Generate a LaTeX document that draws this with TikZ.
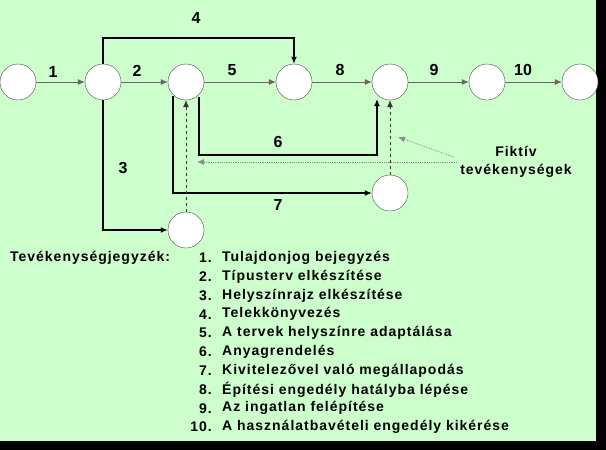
\documentclass[tikz,border=0pt]{standalone}
\usepackage{fontspec}
\setmainfont{Liberation Sans}
\usetikzlibrary{arrows.meta}
\definecolor{bgGreen}{RGB}{204,255,204}
\tikzset{
  event/.style={circle,draw=black!70,fill=white,minimum size=36pt,inner sep=0pt},
  act/.style={draw=black,line width=1.3pt,-{Latex[length=7pt,width=6pt]}},
  thin act/.style={draw=black!60,line width=0.8pt,-{Latex[length=7pt,width=6pt]}},
  dummy/.style={draw=black!80,dashed,line width=0.8pt,-{Latex[length=7pt,width=6pt]}},
  pointer/.style={draw=black!45,densely dotted,line width=0.8pt,-{Latex[length=7pt,width=6pt]}},
  lab/.style={font=\bfseries\fontsize{16}{16}\selectfont},
  item/.style={font=\bfseries\fontsize{14}{14}\selectfont\addfontfeature{LetterSpace=7},anchor=west,inner sep=0pt}
}
\begin{document}
\begin{tikzpicture}[x=1pt,y=-1pt]
  \fill[black] (0,0) rectangle (606,450);
  \fill[bgGreen] (0,0) rectangle (596,441);
  \useasboundingbox (0,0) rectangle (606,450);
  % events
  \node[event] (e1) at (18,82) {};
  \node[event] (e2) at (103,82) {};
  \node[event] (e3) at (186,82) {};
  \node[event] (e4) at (294,82) {};
  \node[event] (e5) at (390,82) {};
  \node[event] (e6) at (487,82) {};
  \node[event] (e7) at (580,82) {};
  \node[event] (e8) at (390,193) {};
  \node[event] (e9) at (186,230) {};
  % activities
  \draw[thin act] (e1) -- (e2);
  \draw[thin act] (e2) -- (e3);
  \draw[thin act] (e3) -- (e4);
  \draw[thin act] (e4) -- (e5);
  \draw[thin act] (e5) -- (e6);
  \draw[thin act] (e6) -- (e7);
  \draw[act] (e2.north) |- (103,38) -| (e4.north);
  \draw[act] (e2.south) |- (e9.west);
  \draw[act] (199,97) |- (377,155) -- (377,99);
  \draw[act] (173,96) |- (e8.west);
  \draw[dummy] (e9.north) -- (e3.south);
  \draw[dummy] (e8.north) -- (e5.south);
  \node[lab] (l1) at (53,72) {1};
  \node[lab] (l2) at (137,71) {2};
  \node[lab] (l4) at (196,18) {4};
  \node[lab] (l5) at (232,70) {5};
  \node[lab] (l8) at (340,70) {8};
  \node[lab] (l9) at (434,70) {9};
  \node[lab] (l10) at (523,70) {10};
  \node[lab] (l6) at (278,142) {6};
  \node[lab] (l7) at (278,205) {7};
  \node[lab] (l3) at (123,168) {3};
  % fictive note
  \node[font=\bfseries\fontsize{14}{18}\selectfont\addfontfeature{LetterSpace=7},align=center] (fikt) at (516,162) {Fiktív\\tevékenységek};
  \coordinate (p1) at (197,162);
  \coordinate (p2) at (398,137);
  \draw[pointer] (fikt.west |- p1) -- (p1);
  \draw[pointer] (fikt.west) ++(-3,-5) -- (p2);
  % list
  \node[item] (title) at (10,258) {Tevékenységjegyzék:};
  \foreach \n/\t [count=\i] in {1/Tulajdonjog bejegyzés,2/Típusterv elkészítése,3/Helyszínrajz elkészítése,4/Telekkönyvezés,5/A tervek helyszínre adaptálása,6/Anyagrendelés,7/Kivitelezővel való megállapodás,8/Építési engedély hatályba lépése,9/Az ingatlan felépítése,10/A használatbavételi engedély kikérése}{
    \node[item,anchor=east] (num\i) at (212,239+18.8*\i) {\n.};
    \node[item] (txt\i) at (222,239+18.8*\i) {\t};
  }
\end{tikzpicture}
\end{document}
